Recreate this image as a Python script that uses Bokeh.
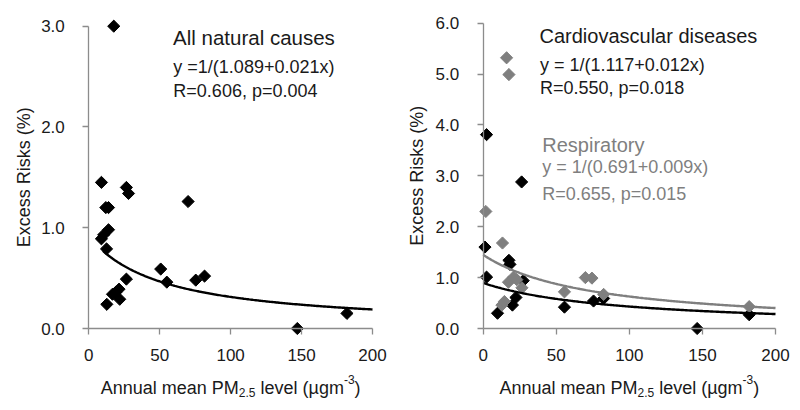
import numpy as np
from bokeh.plotting import figure
from bokeh.layouts import row
from bokeh.models import Range1d, FixedTicker, PrintfTickFormatter, Label, ColumnDataSource
from bokeh.embed import file_html
from bokeh.resources import INLINE

# ---------------- data ----------------
x_ticks = [0, 50, 100, 150, 200]
y_ticks_left = [0, 1, 2, 3]
y_ticks_right = [0, 1, 2, 3, 4, 5, 6]

# All natural causes
all_x = [17.6, 8.9, 12.0, 13.9, 26.5, 28.0, 70.0, 13.9, 8.9, 10.5, 12.5, 26.5,
         50.7, 55.0, 75.4, 81.6, 12.7, 16.7, 19.0, 21.3, 21.8, 147.0, 182.0]
all_y = [3.00, 1.45, 1.20, 1.20, 1.40, 1.34, 1.26, 0.98, 0.89, 0.93, 0.79, 0.49,
         0.59, 0.46, 0.48, 0.52, 0.24, 0.34, 0.36, 0.39, 0.29, 0.00, 0.15]
all_fit = [1.089, 0.021]

# Cardiovascular diseases
cv_x = [2.3, 26.3, 1.2, 2.3, 17.6, 18.3, 27.4, 9.8, 20.0, 22.4, 55.6, 75.5, 82.4, 146.4, 182.0]
cv_y = [3.81, 2.88, 1.60, 1.01, 1.34, 1.26, 0.94, 0.30, 0.46, 0.61, 0.42, 0.54, 0.59, 0.00, 0.27]
cv_fit = [1.117, 0.012]

# Respiratory
rs_x = [16.0, 17.6, 1.8, 13.2, 17.3, 20.8, 23.0, 26.5, 12.8, 14.5, 55.6, 69.9, 74.4, 82.4, 182.0]
rs_y = [5.32, 4.99, 2.30, 1.68, 0.91, 1.01, 0.96, 0.80, 0.46, 0.53, 0.72, 1.00, 0.99, 0.67, 0.43]
rs_fit = [0.691, 0.009]

FONT = "Liberation Sans"
BLACK = "#000000"
GRAY = "#7f7f7f"
AXIS = "#8c8c8c"
TXT = "#1a1a1a"
FIG_W, FIG_H = 400, 410
BASE_FIX = 7  # baseline correction for labels (px)


def fit_curve(coef, x0, x1):
    xs = np.linspace(x0, x1, 200)
    return xs, 1.0 / (coef[0] + coef[1] * xs)


def make_fig(ymax, yticks, px0, px200, py0, pytop):
    # frame fills the whole canvas; axes are placed at x=0 / y=0
    kx = (px200 - px0) / 200.0
    ky = (py0 - pytop) / ymax
    xr = Range1d(-px0 / kx, (FIG_W - px0) / kx)
    yr = Range1d(-(FIG_H - py0) / ky, py0 / ky)
    p = figure(width=FIG_W, height=FIG_H, x_range=xr, y_range=yr,
               output_backend="svg", toolbar_location=None,
               min_border_left=0, min_border_right=0,
               min_border_top=0, min_border_bottom=0)
    p.outline_line_color = None
    p.xgrid.visible = False
    p.ygrid.visible = False
    p.background_fill_color = "white"
    p.border_fill_color = "white"
    p.xaxis.ticker = FixedTicker(ticks=x_ticks)
    p.yaxis.ticker = FixedTicker(ticks=yticks)
    p.yaxis.formatter = PrintfTickFormatter(format="%.1f")
    p.xaxis.fixed_location = 0
    p.yaxis.fixed_location = 0
    p.xaxis.bounds = (0, 200)
    p.yaxis.bounds = (0, ymax)
    for ax in (p.xaxis[0], p.yaxis[0]):
        ax.axis_line_color = AXIS
        ax.axis_line_width = 1.3
        ax.major_tick_line_color = AXIS
        ax.major_tick_line_width = 1.3
        ax.major_tick_out = 6
        ax.major_tick_in = 0
        ax.minor_tick_line_color = None
        ax.major_label_text_font = FONT
        ax.major_label_text_font_size = "17px"
        ax.major_label_text_color = TXT
    p.xaxis.major_label_standoff = 14
    p.yaxis.major_label_standoff = 18
    return p


def x_label(p):
    # "Annual mean PM2.5 level (µgm-3)" built from pieces, centred on x=100
    # (text, font px, vertical shift, advance in em, leading gap in em)
    pieces = [("Annual mean PM", 18, 0, 7.670, 0.0),
              ("2.5", 12, -5, 1.390, 0.0),
              ("level (µgm", 18, 0, 4.632, 0.278),
              ("-3", 12, 8, 0.889, 0.0),
              (")", 18, 0, 0.333, 0.0)]
    total = sum(s * (w + g) for _, s, _, w, g in pieces)
    off = -total / 2
    for txt, s, dy, w, g in pieces:
        off += s * g
        p.add_layout(Label(x=100, y=0, x_offset=off, y_offset=-66 + dy + BASE_FIX, text=txt,
                           text_font=FONT, text_font_size=f"{s}px", text_color=TXT,
                           text_align="left", text_baseline="alphabetic"))
        off += s * w


def y_label(p, x, y):
    p.add_layout(Label(x=x, y=y, angle=np.pi / 2, text="Excess Risks (%)",
                       text_font=FONT, text_font_size="18px", text_color=TXT,
                       text_align="center", text_baseline="alphabetic"))


def note(p, x, y, txt, size, color):
    p.add_layout(Label(x=x, y=y, y_offset=BASE_FIX, text=txt, text_font=FONT,
                       text_font_size=f"{size}px", text_color=color,
                       text_align="left", text_baseline="alphabetic"))


# ---------------- left panel ----------------
p1 = make_fig(3, y_ticks_left, 88.3, 372.0, 328.0, 25.7)
s1 = ColumnDataSource(dict(x=all_x, y=all_y))
p1.scatter("x", "y", source=s1, marker="square", angle=np.pi / 4, size=8.6,
           fill_color=BLACK, line_color=BLACK)
fx, fy = fit_curve(all_fit, 10, 200)
p1.line(fx, fy, line_color=BLACK, line_width=2.4)
note(p1, 59.4, 2.82, "All natural causes", 20.5, TXT)
note(p1, 59.6, 2.53, "y =1/(1.089+0.021x)", 18, TXT)
note(p1, 59.6, 2.29, "R=0.606, p=0.004", 18, TXT)
x_label(p1)
y_label(p1, -46.0, 1.50)

# ---------------- right panel ----------------
p2 = make_fig(6, y_ticks_right, 82.7, 375.0, 328.0, 22.7)
s2 = ColumnDataSource(dict(x=cv_x, y=cv_y))
s3 = ColumnDataSource(dict(x=rs_x, y=rs_y))
p2.scatter("x", "y", source=s2, marker="square", angle=np.pi / 4, size=8.6,
           fill_color=BLACK, line_color=BLACK)
p2.scatter("x", "y", source=s3, marker="square", angle=np.pi / 4, size=8.6,
           fill_color=GRAY, line_color=GRAY)
cx, cy = fit_curve(cv_fit, 0, 200)
rx, ry = fit_curve(rs_fit, 0, 200)
p2.line(rx, ry, line_color=GRAY, line_width=2.4)
p2.line(cx, cy, line_color=BLACK, line_width=2.4)
note(p2, 38.5, 5.62, "Cardiovascular diseases", 20, TXT)
note(p2, 38.9, 5.04, "y = 1/(1.117+0.012x)", 18, TXT)
note(p2, 38.9, 4.58, "R=0.550, p=0.018", 18, TXT)
note(p2, 40.4, 3.46, "Respiratory", 20, GRAY)
note(p2, 40.4, 3.04, "y = 1/(0.691+0.009x)", 18, GRAY)
note(p2, 40.4, 2.51, "R=0.655, p=0.015", 18, GRAY)
x_label(p2)
y_label(p2, -45.0, 3.0)

layout = row(p1, p2)
open("out.html", "w").write(file_html(layout, INLINE))
